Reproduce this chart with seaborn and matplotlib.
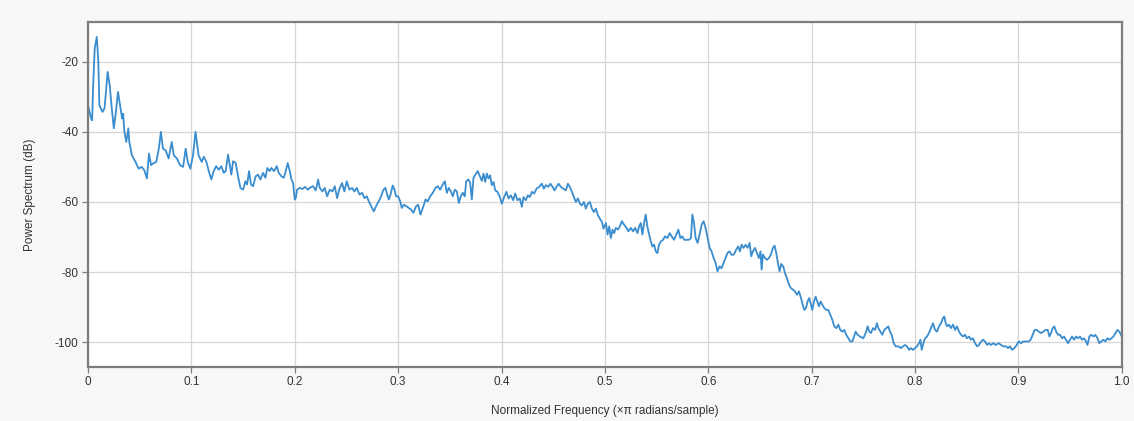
import matplotlib
matplotlib.use("Agg")
import matplotlib.pyplot as plt
import seaborn as sns
import pandas as pd

# Normalized frequency (x pi rad/sample) and power spectrum (dB)
freq = [
    0.000, 0.003, 0.004, 0.005, 0.0065, 0.0085, 0.010, 0.011, 0.014, 0.016,
    0.019, 0.021, 0.023, 0.025, 0.027, 0.029, 0.031, 0.033, 0.034, 0.035,
    0.037, 0.039, 0.040, 0.0425, 0.046, 0.049, 0.052, 0.0545, 0.057, 0.059,
    0.061, 0.063, 0.066, 0.0685, 0.0705, 0.0725, 0.075, 0.078, 0.081, 0.083,
    0.086, 0.089, 0.092, 0.0945, 0.0965, 0.099, 0.1016, 0.104, 0.107, 0.110,
    0.112, 0.1146, 0.117, 0.1193, 0.1216, 0.124, 0.1265, 0.129, 0.1313, 0.1332,
    0.1355, 0.1371, 0.1387, 0.1403, 0.1429, 0.1452, 0.1474, 0.150, 0.1523, 0.1539,
    0.1558, 0.1577, 0.1597, 0.1622, 0.1645, 0.1668, 0.1694, 0.1716, 0.1735, 0.1758,
    0.1774, 0.180, 0.1826, 0.1845, 0.1871, 0.1894, 0.1913, 0.1932, 0.1952, 0.1968,
    0.1984, 0.200, 0.2010, 0.2023, 0.2048, 0.2074, 0.2100, 0.2126, 0.2145, 0.2177,
    0.2203, 0.2226, 0.2242, 0.2268, 0.2290, 0.2313, 0.2339, 0.2365, 0.2387, 0.2410,
    0.2432, 0.2458, 0.2480, 0.2503, 0.2529, 0.2555, 0.2577, 0.2600, 0.2626, 0.2652,
    0.2674, 0.2697, 0.2716, 0.2739, 0.2765, 0.2787, 0.2813, 0.2835, 0.2858, 0.2877,
    0.2894, 0.2910, 0.2926, 0.2948, 0.2965, 0.2980, 0.3000, 0.3020, 0.3035, 0.3058,
    0.3077, 0.3103, 0.3126, 0.3148, 0.3174, 0.3194, 0.3216, 0.3239, 0.3265, 0.3287,
    0.3310, 0.3335, 0.3361, 0.3384, 0.3406, 0.3432, 0.3452, 0.3471, 0.3490, 0.3510,
    0.3529, 0.3548, 0.3568, 0.3587, 0.3606, 0.3626, 0.3645, 0.3658, 0.3680, 0.3697,
    0.3713, 0.3729, 0.3748, 0.3770, 0.3794, 0.3810, 0.3826, 0.3842, 0.3858, 0.3874,
    0.3890, 0.3906, 0.3923, 0.3939, 0.3961, 0.3984, 0.4003, 0.4026, 0.4048, 0.4068,
    0.4090, 0.4113, 0.4132, 0.4155, 0.4177, 0.4197, 0.4213, 0.4235, 0.4255, 0.4274,
    0.4294, 0.4316, 0.4339, 0.4365, 0.4390, 0.4410, 0.4429, 0.4452, 0.4474, 0.4494,
    0.4513, 0.4532, 0.4552, 0.4574, 0.4597, 0.4623, 0.4642, 0.4661, 0.4681, 0.4700,
    0.4719, 0.4739, 0.4758, 0.4777, 0.4797, 0.4816, 0.4835, 0.4855, 0.4874, 0.4894,
    0.4913, 0.4932, 0.4952, 0.4971, 0.4987, 0.5010, 0.5026, 0.5042, 0.5058, 0.5074,
    0.5090, 0.5106, 0.5126, 0.5145, 0.5164, 0.5186, 0.5209, 0.5228, 0.5251, 0.5273,
    0.5293, 0.5315, 0.5331, 0.5347, 0.5363, 0.5379, 0.5395, 0.5411, 0.5428, 0.5444,
    0.5460, 0.5476, 0.5492, 0.5508, 0.5524, 0.5543, 0.5563, 0.5582, 0.5605, 0.5627,
    0.5646, 0.5669, 0.5691, 0.5711, 0.5730, 0.5749, 0.5768, 0.5791, 0.5813, 0.5833,
    0.5846, 0.5862, 0.5878, 0.5897, 0.5916, 0.5936, 0.5955, 0.5974, 0.5994, 0.6013,
    0.6032, 0.6052, 0.6071, 0.6090, 0.6109, 0.6129, 0.6148, 0.6167, 0.6186, 0.6206,
    0.6225, 0.6248, 0.6270, 0.6290, 0.6306, 0.6323, 0.6342, 0.6361, 0.6381, 0.6400,
    0.6416, 0.6432, 0.6452, 0.6471, 0.6490, 0.6506, 0.6516, 0.6529, 0.6548, 0.6568,
    0.6587, 0.6606, 0.6626, 0.6642, 0.6658, 0.6674, 0.6690, 0.6706, 0.6726, 0.6742,
    0.6761, 0.6781, 0.6800, 0.6819, 0.6839, 0.6858, 0.6877, 0.6897, 0.6913, 0.6929,
    0.6945, 0.6961, 0.6977, 0.6994, 0.7006, 0.7023, 0.7039, 0.7055, 0.7071, 0.7087,
    0.7103, 0.7123, 0.7142, 0.7161, 0.7181, 0.7200, 0.7219, 0.7239, 0.7258, 0.7277,
    0.7297, 0.7316, 0.7335, 0.7355, 0.7374, 0.7394, 0.7410, 0.7426, 0.7445, 0.7468,
    0.7500, 0.7523, 0.7542, 0.7558, 0.7574, 0.7594, 0.7613, 0.7632, 0.7645, 0.7665,
    0.7684, 0.7703, 0.7723, 0.7742, 0.7758, 0.7774, 0.7794, 0.7813, 0.7839, 0.7865,
    0.7884, 0.7903, 0.7923, 0.7942, 0.7961, 0.7981, 0.8000, 0.8019, 0.8039, 0.8052,
    0.8065, 0.8081, 0.8097, 0.8116, 0.8135, 0.8155, 0.8174, 0.8194, 0.8213, 0.8232,
    0.8252, 0.8271, 0.8284, 0.8297, 0.8310, 0.8329, 0.8348, 0.8368, 0.8387, 0.8406,
    0.8426, 0.8445, 0.8465, 0.8484, 0.8503, 0.8523, 0.8542, 0.8561, 0.8581, 0.8600,
    0.8619, 0.8639, 0.8658, 0.8677, 0.8697, 0.8716, 0.8735, 0.8758, 0.8780, 0.8810,
    0.8832, 0.8855, 0.8881, 0.8900, 0.8919, 0.8939, 0.8961, 0.8984, 0.9003, 0.9026,
    0.9048, 0.9074, 0.9100, 0.9119, 0.9139, 0.9158, 0.9177, 0.9197, 0.9219, 0.9242,
    0.9261, 0.9284, 0.9300, 0.9316, 0.9332, 0.9348, 0.9365, 0.9384, 0.9403, 0.9423,
    0.9442, 0.9461, 0.9481, 0.9500, 0.9519, 0.9539, 0.9558, 0.9577, 0.9597, 0.9616,
    0.9635, 0.9655, 0.9668, 0.9687, 0.9706, 0.9726, 0.9745, 0.9765, 0.9784, 0.9803,
    0.9823, 0.9842, 0.9861, 0.9881, 0.9900, 0.9919, 0.9939, 0.9958, 0.9977, 1.0000,
]

power_db = [
    -32.4, -36.2, -36.7, -26.7, -16.2, -12.9, -20.0, -32.4, -34.3, -33.3,
    -22.9, -26.7, -33.3, -39.0, -34.3, -28.6, -32.4, -36.2, -34.8, -39.5,
    -42.9, -39.0, -42.9, -46.7, -48.6, -50.5, -50.0, -51.0, -53.3, -46.2,
    -49.5, -49.0, -48.6, -44.8, -40.0, -44.8, -45.2, -47.6, -42.9, -46.7,
    -47.6, -49.5, -50.0, -44.8, -48.6, -50.5, -46.7, -40.0, -46.7, -48.6,
    -47.1, -48.6, -51.4, -53.6, -51.2, -49.8, -50.8, -49.8, -51.7, -51.2,
    -46.5, -49.3, -52.2, -48.4, -48.9, -52.7, -56.0, -56.5, -54.1, -55.0,
    -51.2, -55.0, -55.5, -52.7, -52.2, -53.6, -51.7, -53.1, -50.3, -51.2,
    -50.3, -51.2, -49.8, -51.7, -52.7, -53.1, -51.2, -48.9, -51.2, -53.6,
    -54.6, -59.3, -58.9, -56.5, -56.0, -56.3, -55.7, -56.5, -56.0, -55.5,
    -56.7, -53.6, -56.0, -57.0, -56.0, -58.4, -56.5, -57.0, -55.5, -58.9,
    -56.3, -54.6, -57.0, -54.1, -56.5, -56.0, -57.0, -56.0, -57.9, -57.4,
    -58.9, -58.4, -59.8, -61.2, -62.7, -61.2, -59.8, -58.4, -56.5, -56.0,
    -57.9, -59.3, -57.9, -55.3, -56.5, -58.4, -58.4, -59.8, -61.7, -60.8,
    -61.2, -61.7, -62.2, -63.1, -61.2, -60.8, -63.6, -61.7, -59.3, -59.8,
    -58.4, -57.4, -56.0, -55.5, -56.5, -55.0, -54.1, -57.4, -56.0, -57.0,
    -58.4, -56.5, -57.0, -60.3, -58.4, -57.4, -58.4, -54.1, -53.6, -54.6,
    -59.3, -53.1, -52.2, -51.2, -52.9, -54.0, -51.9, -54.3, -51.9, -53.3,
    -52.4, -55.2, -54.3, -56.7, -57.1, -58.6, -60.5, -58.6, -57.1, -59.0,
    -58.1, -59.5, -57.6, -59.5, -59.0, -61.4, -58.6, -59.5, -58.1, -58.6,
    -57.1, -57.6, -56.2, -55.7, -54.8, -56.2, -55.2, -55.7, -54.8, -55.7,
    -56.7, -55.7, -54.8, -55.7, -56.2, -56.7, -54.8, -55.7, -57.1, -58.6,
    -60.0, -59.0, -60.5, -61.0, -60.0, -61.9, -60.5, -60.0, -61.9, -62.9,
    -61.9, -63.8, -64.8, -65.7, -67.6, -66.0, -69.3, -67.0, -70.3, -67.9,
    -68.9, -67.4, -67.9, -67.0, -65.5, -66.5, -67.4, -68.4, -67.4, -68.4,
    -67.4, -68.9, -67.0, -66.0, -69.3, -66.0, -63.6, -67.0, -69.3, -71.2,
    -72.7, -72.2, -74.1, -74.6, -72.2, -71.2, -70.8, -69.8, -70.3, -68.9,
    -69.8, -70.8, -69.3, -67.9, -70.3, -69.8, -70.8, -70.8, -70.8, -70.3,
    -63.6, -66.0, -70.3, -71.7, -69.3, -66.5, -65.5, -67.4, -70.3, -73.1,
    -74.1, -76.0, -77.4, -79.8, -78.4, -78.9, -77.4, -76.0, -74.6, -74.1,
    -75.1, -75.0, -73.6, -72.7, -74.1, -72.2, -73.1, -72.2, -73.1, -71.7,
    -75.5, -74.1, -73.1, -74.6, -76.0, -74.1, -79.3, -75.0, -76.0, -76.5,
    -76.0, -75.0, -73.1, -72.5, -74.6, -77.4, -79.8, -77.7, -78.4, -80.3,
    -81.7, -83.6, -84.6, -85.0, -85.5, -86.5, -85.5, -87.4, -89.3, -90.8,
    -90.3, -88.4, -87.4, -89.3, -90.8, -88.4, -87.0, -88.4, -89.8, -88.4,
    -89.3, -90.3, -90.8, -90.8, -92.2, -93.6, -95.5, -96.0, -95.0, -96.5,
    -97.0, -96.5, -97.9, -98.9, -99.8, -99.8, -98.4, -97.0, -97.9, -98.4,
    -98.9, -97.4, -95.5, -97.0, -97.4, -96.0, -96.5, -94.6, -96.0, -97.0,
    -97.9, -96.5, -96.0, -95.5, -97.0, -97.9, -100.3, -101.2, -101.2, -101.7,
    -101.2, -100.8, -101.2, -102.2, -101.7, -102.2, -101.7, -101.2, -100.3, -99.3,
    -102.2, -100.3, -98.9, -98.4, -97.4, -96.0, -94.6, -96.5, -97.0, -95.5,
    -94.6, -93.1, -92.7, -94.6, -95.5, -95.0, -96.0, -95.0, -96.5, -95.5,
    -97.0, -97.9, -98.4, -97.9, -98.9, -98.4, -99.3, -98.9, -100.3, -101.2,
    -100.8, -99.8, -99.3, -99.8, -100.8, -100.3, -100.8, -100.3, -100.8, -100.3,
    -100.8, -101.2, -101.2, -101.7, -101.2, -102.2, -101.7, -100.8, -99.8, -100.3,
    -99.8, -99.8, -99.8, -99.3, -97.9, -96.5, -96.5, -97.0, -97.4, -97.0,
    -96.5, -96.5, -98.4, -97.4, -96.0, -95.5, -97.0, -97.9, -97.9, -98.9,
    -98.4, -99.3, -100.3, -99.3, -98.4, -99.3, -98.4, -98.9, -98.4, -99.3,
    -98.9, -99.8, -100.8, -98.4, -97.9, -98.4, -97.9, -98.9, -100.3, -99.8,
    -99.3, -99.8, -98.9, -99.3, -98.9, -98.4, -97.4, -96.5, -97.0, -98.4,
]

x_ticks = [0.0, 0.1, 0.2, 0.3, 0.4, 0.5, 0.6, 0.7, 0.8, 0.9, 1.0]
x_tick_labels = ["0", "0.1", "0.2", "0.3", "0.4", "0.5", "0.6", "0.7", "0.8", "0.9", "1.0"]
y_ticks = [-20, -40, -60, -80, -100]
y_tick_labels = ["-20", "-40", "-60", "-80", "-100"]

df = pd.DataFrame({"freq": freq, "power": power_db})

sns.set_theme(style="whitegrid")
plt.rcParams["font.family"] = ["Liberation Sans", "DejaVu Sans"]
plt.rcParams["axes.unicode_minus"] = False

fig = plt.figure(figsize=(11.34, 4.21), dpi=100, facecolor="#f7f7f7")
ax = fig.add_axes([0.0776, 0.129, 0.9116, 0.8176])
ax.set_facecolor("white")

sns.lineplot(data=df, x="freq", y="power", ax=ax, color="#3a8dcf",
             linewidth=1.3, sort=False)

ax.set_xlim(0, 1.0)
ax.set_ylim(-107, -8.8)
ax.set_xticks(x_ticks)
ax.set_xticklabels(x_tick_labels)
ax.set_yticks(y_ticks)
ax.set_yticklabels(y_tick_labels)

ax.grid(True, color="#d6d6d6", linewidth=0.9)
for side in ["left", "right", "top", "bottom"]:
    ax.spines[side].set_visible(True)
    ax.spines[side].set_color("#7d7d7d")
    ax.spines[side].set_linewidth(1.6)

ax.tick_params(axis="both", which="major", direction="out", length=4,
               width=0.9, color="#7d7d7d", labelsize=8.5, labelcolor="#333333",
               pad=3, left=True, bottom=True)

ax.set_xlabel("Normalized Frequency (×π radians/sample)", fontsize=8.5,
              color="#333333", labelpad=12)
ax.set_ylabel("Power Spectrum (dB)", fontsize=8.5, color="#333333", labelpad=13)

fig.savefig("out.png", dpi=100, facecolor=fig.get_facecolor())
